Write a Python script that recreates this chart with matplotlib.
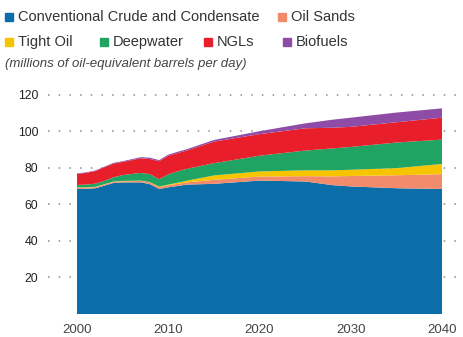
import matplotlib
matplotlib.use("Agg")
import matplotlib.pyplot as plt
from matplotlib.patches import Rectangle

plt.rcParams['font.family'] = ['Liberation Sans', 'DejaVu Sans']

# values (millions of barrels per day)
years = [2000, 2001, 2002, 2003, 2004, 2005, 2006, 2007, 2008, 2009,
         2010, 2011, 2012, 2015, 2020, 2025, 2028, 2030, 2035, 2040]
conventional = [68.4, 68.5, 68.8, 70.2, 71.7, 72.0, 72.0, 72.0, 71.0, 68.4,
                69.3, 70.0, 70.8, 71.2, 73.0, 72.5, 70.5, 69.8, 68.8, 68.4]
oil_sands = [0.6, 0.6, 0.6, 0.6, 0.6, 0.6, 0.7, 0.8, 0.9, 1.0,
             1.1, 1.2, 1.2, 2.2, 2.2, 2.9, 4.8, 5.7, 7.1, 8.1]
tight_oil = [0.2, 0.2, 0.2, 0.2, 0.2, 0.2, 0.2, 0.2, 0.2, 0.3,
             0.4, 0.6, 0.9, 2.4, 2.8, 3.2, 3.3, 3.4, 3.9, 5.6]
deepwater = [1.4, 1.5, 1.7, 1.8, 2.3, 3.2, 3.7, 4.2, 4.4, 4.0,
             5.6, 6.2, 6.5, 6.7, 8.6, 10.8, 12.0, 12.5, 14.0, 13.3]
ngls = [6.0, 6.4, 6.9, 7.5, 7.5, 7.2, 7.6, 8.0, 8.3, 9.9,
        10.2, 10.0, 10.0, 11.8, 11.8, 12.2, 11.3, 11.0, 11.1, 12.0]
biofuels = [0.3, 0.3, 0.3, 0.3, 0.4, 0.4, 0.5, 0.6, 0.7, 0.6,
            0.6, 0.7, 0.7, 0.9, 1.6, 2.7, 4.4, 5.0, 5.3, 5.1]

labels = ["Conventional Crude and Condensate", "Oil Sands", "Tight Oil",
          "Deepwater", "NGLs", "Biofuels"]
colors = ["#0b6ea8", "#f28b6b", "#f6c500", "#1fa463", "#e81f2b", "#8f4ca6"]
xticks = [2000, 2010, 2020, 2030, 2040]
yticks = [20, 40, 60, 80, 100, 120]

fig = plt.figure(figsize=(4.64, 3.37), dpi=100)
ax = fig.add_axes([48 / 464, 23 / 337, 416 / 464, 223 / 337])

ax.stackplot(years, conventional, oil_sands, tight_oil, deepwater, ngls,
             biofuels, colors=colors, linewidth=0, zorder=2)

ax.set_xlim(1996.82, 2042.41)
ax.set_ylim(0, 122)

for y in yticks:
    ax.axhline(y, color="#8a8a8a", lw=1.1, ls=(0, (1, 6)), zorder=1)

# baseline runs past the left edge of the axes
ax.plot([-0.07, 1.0], [0, 0], transform=ax.get_xaxis_transform(),
        color="#1a1a1a", lw=2.2, clip_on=False, zorder=3)

for s in ax.spines.values():
    s.set_visible(False)
ax.set_xticks(xticks)
ax.set_yticks(yticks)
ax.tick_params(length=0)
ax.tick_params(axis="x", labelsize=9.5, labelcolor="#444444", pad=7)
ax.tick_params(axis="y", labelsize=8.8, labelcolor="#222222", pad=7)

# legend drawn by hand
legend_pos = [(5, 17), (278, 17), (5, 42), (100, 42), (204, 42), (283, 42)]
for (px, py), lab, col in zip(legend_pos, labels, colors):
    fig.patches.append(Rectangle((px / 464, (337 - py - 4) / 337), 8 / 464, 8 / 337,
                                 transform=fig.transFigure, color=col))
    fig.text((px + 13) / 464, (337 - py) / 337, lab, fontsize=10.5,
             color="#333333", va="center", ha="left")

fig.text(5 / 464, (337 - 64) / 337, "(millions of oil-equivalent barrels per day)",
         fontsize=9.5, style="italic", color="#444444", va="center", ha="left")

fig.savefig("out.png", dpi=100)
